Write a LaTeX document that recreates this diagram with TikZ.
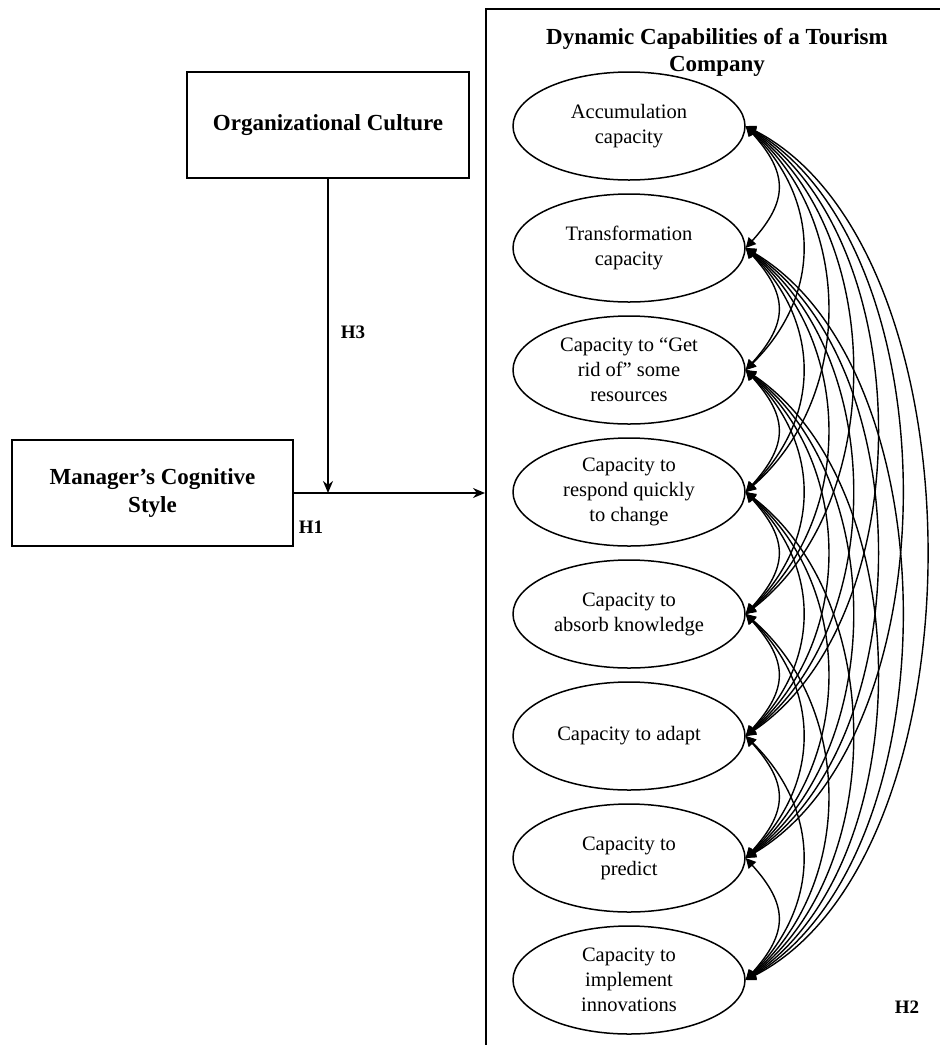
\documentclass[tikz,border=0pt]{standalone}
\usepackage{fontspec}
\setmainfont{Liberation Serif}
\usetikzlibrary{shapes.geometric,arrows.meta}
\begin{document}
\begin{tikzpicture}[x=1pt,y=-1pt,
 boxnode/.style={draw,line width=1.8pt,minimum width=282pt,minimum height=106pt,inner sep=0pt,align=center,font=\fontsize{23}{28}\selectfont\bfseries},
 capnode/.style={draw,ellipse,line width=1.5pt,minimum width=232pt,minimum height=108pt,inner sep=0pt,align=center,font=\fontsize{20.5}{25}\selectfont},
 hlabel/.style={font=\fontsize{19}{22}\selectfont\bfseries,inner sep=0pt},
 mainarrow/.style={line width=1.6pt,-{Stealth[length=12pt,width=10pt]}},
 corr/.style={line width=1.4pt,{Triangle[length=10pt,width=10pt]}-{Triangle[length=10pt,width=10pt]}}]
\useasboundingbox (0,0) rectangle (940,1045);
\fill[white] (0,0) rectangle (940,1045);
\node[boxnode] (org) at (328,125) {Organizational Culture};
\node[boxnode,minimum width=281pt] (mgr) at (152.5,493) {Manager’s Cognitive\\Style};
\node[draw,line width=1.8pt,anchor=north west,minimum width=480pt,minimum height=1070pt,inner sep=0pt] (big) at (485,8) {};
\node[font=\fontsize{23}{27}\selectfont\bfseries,align=center,inner sep=0pt] (title) at (717,52) {Dynamic Capabilities of a Tourism\\Company};
\foreach \n/\y/\t in {1/126/{Accumulation\\capacity},
  2/248/{Transformation\\capacity},
  3/370/{Capacity to “Get\\rid of” some\\resources},
  4/492/{Capacity to\\respond quickly\\to change},
  5/614/{Capacity to\\absorb knowledge},
  6/736/{Capacity to adapt},
  7/858/{Capacity to\\predict},
  8/980/{Capacity to\\implement\\innovations}}{
  \node[capnode] (e\n) at (629,\y) {\t};
}
\coordinate (j) at (org.south |- mgr.east);
\draw[mainarrow] (mgr.east) -- (mgr.east -| big.west);
\draw[mainarrow] (org.south) -- (j);
\foreach \i in {1,...,7}{
  \pgfmathtruncatemacro{\s}{\i+1}
  \foreach \j in {\s,...,8}{
    \pgfmathsetmacro{\d}{\j-\i}
    \pgfmathsetmacro{\k}{(32+24.7*(\d-1))/0.75}
    \pgfmathsetmacro{\dy}{\k*tan(48-3.5*(\d-1))}
    \draw[corr] (e\i.east) .. controls +(\k,\dy) and +(\k,-\dy) .. (e\j.east);
  }
}
\node[hlabel] (h1) at (311,527) {H1};
\node[hlabel] (h3) at (353,332) {H3};
\node[hlabel] (h2) at (907,1007) {H2};
\end{tikzpicture}
\end{document}
